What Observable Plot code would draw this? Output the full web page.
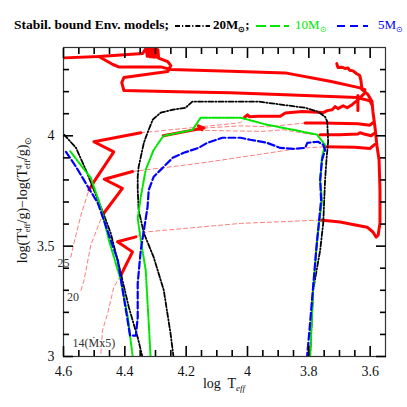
<!DOCTYPE html>
<html><head><meta charset="utf-8">
<script src="https://cdn.jsdelivr.net/npm/d3@7"></script>
<script src="https://cdn.jsdelivr.net/npm/@observablehq/plot@0.6"></script>
<style>
body{margin:0;background:#fff;}
#wrap{position:relative;width:407px;height:407px;overflow:hidden;}
#legend{display:block;}
#chart svg{display:block;}
</style></head><body>
<div id="wrap">
<svg id="legend" width="407" height="38"></svg>
<div id="chart"></div>
</div>
<script>
// ---- axis ticks ----
const xMajor = [4.6, 4.4, 4.2, 4.0, 3.8, 3.6];
const xMinor = [4.55,4.5,4.45,4.35,4.3,4.25,4.15,4.1,4.05,3.95,3.9,3.85,3.75,3.7,3.65];
const yMajor = [3, 3.5, 4];
const yMinor = [3.1,3.2,3.3,3.4,3.6,3.7,3.8,3.9,4.1,4.2,4.3];

// ---- stabilised bound envelope models [logTeff, log(T^4/g)-log(T^4/g)sun] ----
const black20Left = [[4.598,4.005],[4.559,3.945],[4.527,3.845],[4.501,3.755],[4.468,3.641],[4.446,3.559],[4.413,3.377],[4.387,3.223],[4.358,3.086],[4.342,2.995]];
const black20Right = [[4.241,2.995],[4.251,3.105],[4.273,3.30],[4.306,3.45],[4.338,3.559],[4.355,3.664],[4.358,3.755],[4.358,3.814],[4.355,3.859],[4.338,3.968],[4.326,4.014],[4.309,4.073],[4.283,4.105],[4.244,4.118],[4.202,4.127],[4.180,4.155],[4.131,4.155],[4.023,4.155],[3.965,4.155],[3.812,4.127],[3.770,4.109],[3.747,4.086],[3.740,4.064],[3.737,3.973],[3.742,3.90],[3.747,3.80],[3.753,3.605],[3.763,3.482],[3.786,3.30],[3.796,2.995]];
const green10Left = [[4.578,3.93],[4.559,3.895],[4.511,3.809],[4.478,3.677],[4.452,3.527],[4.413,3.345],[4.390,3.177],[4.381,3.073],[4.374,2.995]];
const green10Right = [[4.316,2.995],[4.322,3.15],[4.332,3.391],[4.348,3.527],[4.358,3.627],[4.348,3.723],[4.332,3.845],[4.306,3.936],[4.283,3.982],[4.273,4.0],[4.179,4.027],[4.153,4.082],[4.023,4.082],[3.936,4.05],[3.851,4.027],[3.773,4.005],[3.747,3.959],[3.757,3.905],[3.763,3.80],[3.757,3.709],[3.773,3.527],[3.786,3.30],[3.796,2.995]];
const blue5 = [[4.592,3.927],[4.559,3.859],[4.520,3.768],[4.488,3.695],[4.472,3.632],[4.446,3.527],[4.423,3.436],[4.407,3.30],[4.383,3.095],[4.364,3.095],[4.358,3.177],[4.358,3.332],[4.348,3.482],[4.326,3.677],[4.322,3.755],[4.306,3.814],[4.244,3.900],[4.208,3.923],[4.160,3.945],[4.131,3.968],[4.082,3.991],[4.023,3.991],[3.991,3.982],[3.936,3.968],[3.893,3.945],[3.851,3.941],[3.812,3.945],[3.805,3.968],[3.770,3.973],[3.753,3.959],[3.747,3.936],[3.757,3.891],[3.763,3.80],[3.760,3.709],[3.776,3.482],[3.796,3.150],[3.806,2.995]];

// ---- evolutionary tracks (solid = computed, dashed = connecting) ----
const trackTop = [[4.598,4.353],[4.485,4.359],[4.342,4.373],[4.330,4.398],[4.327,4.36],[4.323,4.405],[4.319,4.358],[4.315,4.405],[4.311,4.357],[4.307,4.405],[4.303,4.356],[4.299,4.403],[4.295,4.356],[4.292,4.39],[4.290,4.352],[4.260,4.336],[4.250,4.318],[4.260,4.291],[4.403,4.264],[4.410,4.241],[4.403,4.205],[4.228,4.200],[4.056,4.195],[3.877,4.186],[3.643,4.173],[3.601,4.159],[3.594,4.14]];
const trackSecond = [[4.485,4.359],[4.439,4.323],[4.420,4.312],[4.283,4.312],[4.250,4.300],[4.056,4.292],[3.877,4.285],[3.731,4.247],[3.633,4.217],[3.617,4.209]];
const track25Solid = [[4.517,3.755],[4.501,3.791],[4.436,3.927],[4.501,3.973],[4.348,4.014]];
const track25Late = [[4.010,4.083],[4.000,4.095],[3.993,4.086],[3.965,4.088],[3.893,4.088],[3.877,4.103],[3.822,4.110],[3.753,4.105],[3.740,4.114],[3.724,4.118],[3.714,4.132],[3.705,4.123],[3.688,4.136],[3.675,4.127],[3.659,4.141],[3.643,4.159],[3.633,4.173],[3.620,4.19]];
const track20Solid = [[4.473,3.641],[4.408,3.762],[4.467,3.803],[4.375,3.838]];
const track20Late = [[3.747,3.95],[3.650,3.948],[3.601,3.942],[3.586,3.96]];
const track14Solid = [[4.413,3.368],[4.375,3.474],[4.424,3.52],[4.364,3.542]];
const track14Late = [[3.763,3.618],[3.698,3.609],[3.610,3.586],[3.591,3.564],[3.581,3.541],[3.574,3.55],[3.568,3.605],[3.568,3.755],[3.571,3.891],[3.578,3.955],[3.584,4.036],[3.591,4.109],[3.594,4.155],[3.607,4.186],[3.627,4.21],[3.630,4.25],[3.634,4.273],[3.645,4.282],[3.656,4.294],[3.667,4.297],[3.672,4.307],[3.682,4.305],[3.693,4.311],[3.705,4.309],[3.709,4.327]];
const trackLoopD = [[3.812,4.058],[3.757,4.058],[3.640,4.055],[3.601,4.048],[3.591,4.059]];
const trackLoopE = [[3.763,4.005],[3.700,4.005],[3.640,4.008],[3.633,4.014],[3.620,4.008],[3.597,4.0],[3.588,4.01]];
const trackShort = [[4.275,4.0],[4.20,4.02],[4.142,4.035],[4.16,4.045],[4.148,4.028]];
const trackSpike = [[3.640,4.182],[3.640,4.115]];

const dash25Low = [[4.576,3.45],[4.566,3.514],[4.543,3.641],[4.517,3.755]];
const dash25High = [[4.348,4.014],[4.186,4.036],[4.023,4.059],[4.004,4.082]];
const dash20Low = [[4.543,3.30],[4.533,3.345],[4.511,3.505],[4.473,3.641]];
const dash20High = [[4.375,3.838],[4.153,3.876],[3.969,3.914],[3.828,3.944],[3.747,3.95]];
const dash14Low = [[4.478,3.014],[4.473,3.118],[4.456,3.195],[4.436,3.314],[4.413,3.368]];
const dash14High = [[4.364,3.542],[4.326,3.565],[4.023,3.603],[3.763,3.618]];
const dashX = [[4.142,4.035],[4.023,4.045],[3.932,4.041],[3.812,4.058]];
const dashY = [[4.16,4.025],[4.05,4.022],[3.95,4.02],[3.883,4.027],[3.80,4.008],[3.763,4.005]];

const trackLabels = ["25", "20", "14(Ṁx5)"];
const trackLabelT = [4.600, 4.569, 4.501];
const trackLabelY = [3.425, 3.27, 3.06];

// ---- legend ----
const legendNames = ["20", "10", "5"];
const legendColors = ["#000000", "#00e600", "#0000ff"];

const FONT = "Liberation Serif";
const px = d => d[0], py = d => d[1];
const solidRed = [trackTop, trackSecond, track25Solid, track25Late, track20Solid, track20Late, track14Solid, track14Late, trackLoopD, trackLoopE, trackShort, trackSpike];
const dashRed = [dash25Low, dash25High, dash20Low, dash20High, dash14Low, dash14High, dashX, dashY];

const blackDash = "5,2,1.2,2";
const greenDash = "9,1.5,1.5,1.5";
const blueDash = "7,3";

const W = 407, H = 369, ML = 63, MR = 22, MT = 9, MB = 51;

const marks = [];
for (const t of dashRed) marks.push(Plot.line(t, {x: px, y: py, stroke: "#ff5a5a", strokeWidth: 0.8, strokeDasharray: "4,3", clip: true}));
for (const t of solidRed) marks.push(Plot.line(t, {x: px, y: py, stroke: "#ff0000", strokeWidth: 3, strokeLinejoin: "round", clip: true}));
marks.push(Plot.line(black20Left, {x: px, y: py, stroke: "#000", strokeWidth: 1.8, strokeDasharray: blackDash, clip: true}));
marks.push(Plot.line(black20Right, {x: px, y: py, stroke: "#000", strokeWidth: 1.8, strokeDasharray: blackDash, clip: true}));
marks.push(Plot.line(green10Left, {x: px, y: py, stroke: legendColors[1], strokeWidth: 2, strokeDasharray: greenDash, clip: true}));
marks.push(Plot.line(green10Right, {x: px, y: py, stroke: legendColors[1], strokeWidth: 2, strokeDasharray: greenDash, clip: true}));
marks.push(Plot.line(blue5, {x: px, y: py, stroke: legendColors[2], strokeWidth: 2.2, strokeDasharray: blueDash, clip: true}));
marks.push(Plot.text(trackLabels.map((s, i) => ({s, t: trackLabelT[i], y: trackLabelY[i]})), {x: "t", y: "y", text: "s", fill: "#333", fontSize: 12, fontFamily: FONT}));
marks.push(Plot.frame({stroke: "#333", strokeWidth: 1.2}));
// inward ticks on all four sides
for (const anchor of ["bottom", "top"]) {
  marks.push(Plot.axisX(xMajor, {anchor, tickSize: 10, inset: 10, text: null, label: null, stroke: "black", strokeWidth: 1.6}));
  marks.push(Plot.axisX(xMinor, {anchor, tickSize: 6, inset: 6, text: null, label: null, stroke: "black", strokeWidth: 1.6}));
}
for (const anchor of ["left", "right"]) {
  marks.push(Plot.axisY(yMajor, {anchor, tickSize: 10, inset: 10, text: null, label: null, stroke: "black", strokeWidth: 1.6}));
  marks.push(Plot.axisY(yMinor, {anchor, tickSize: 6, inset: 6, text: null, label: null, stroke: "black", strokeWidth: 1.6}));
}
marks.push(Plot.axisX(xMajor, {anchor: "bottom", tickSize: 0, tickPadding: 10, tickFormat: d => String(d), label: null, fontSize: 14, fontFamily: FONT, fill: "#111"}));
marks.push(Plot.axisY(yMajor, {anchor: "left", tickSize: 0, tickPadding: 9, tickFormat: d => String(d), label: null, fontSize: 14, fontFamily: FONT, fill: "#111"}));

const chart = Plot.plot({
  width: W, height: H,
  marginLeft: ML, marginRight: MR, marginTop: MT, marginBottom: MB,
  x: {domain: [4.6, 3.55]},
  y: {domain: [3, 4.4]},
  style: {fontFamily: FONT, background: "white"},
  marks
});
document.getElementById("chart").appendChild(chart);

const svg = d3.select(chart);
// axis titles with sub/superscripts
const xt = svg.append("text").attr("x", 224).attr("y", 350).attr("text-anchor", "middle")
  .attr("font-family", FONT).attr("font-size", 14).attr("fill", "#111");
xt.append("tspan").text("log  T");
xt.append("tspan").attr("dy", 3).attr("font-size", 9).attr("font-style", "italic").text("eff");

const yt = svg.append("text").attr("transform", "translate(27,162) rotate(-90)").attr("text-anchor", "middle")
  .attr("font-family", FONT).attr("font-size", 14).attr("fill", "#111");
function teff(sel) {
  sel.append("tspan").text("T");
  sel.append("tspan").attr("dy", -5).attr("font-size", 8).text("4");
  sel.append("tspan").attr("dx", -4).attr("dy", 8).attr("font-size", 8).text("eff");
  sel.append("tspan").attr("dy", -3).text("/g)");
}
yt.append("tspan").text("log(");
teff(yt);
yt.append("tspan").text("\u2212log(");
teff(yt);
yt.append("tspan").attr("dy", 4).attr("font-size", 9).text("\u2299");

// legend
const lg = d3.select("#legend").attr("font-family", FONT);
lg.append("text").attr("x", 14).attr("y", 29).attr("font-size", 13.5).attr("font-weight", "bold").attr("fill", "#000").text("Stabil. bound Env. models;");
const legendX = [[175, 210, 213], [256, 289, 295], [337, 368, 378]];
const legendDash = [blackDash, "10,4", "8,5"];
legendNames.forEach((n, i) => {
  const [a, b, t] = legendX[i];
  lg.append("line").attr("x1", a).attr("x2", b).attr("y1", 26).attr("y2", 26)
    .attr("stroke", legendColors[i]).attr("stroke-width", 2).attr("stroke-dasharray", legendDash[i]);
  const tx = lg.append("text").attr("x", t).attr("y", 29).attr("font-size", 13).attr("font-weight", i === 0 ? "bold" : "normal").attr("fill", legendColors[i]);
  tx.append("tspan").text(n + "M");
  tx.append("tspan").attr("dy", 3).attr("font-size", 8).text("\u2299");
  if (i === 0) tx.append("tspan").attr("dy", -3).text(";");
});
</script>
</body></html>
